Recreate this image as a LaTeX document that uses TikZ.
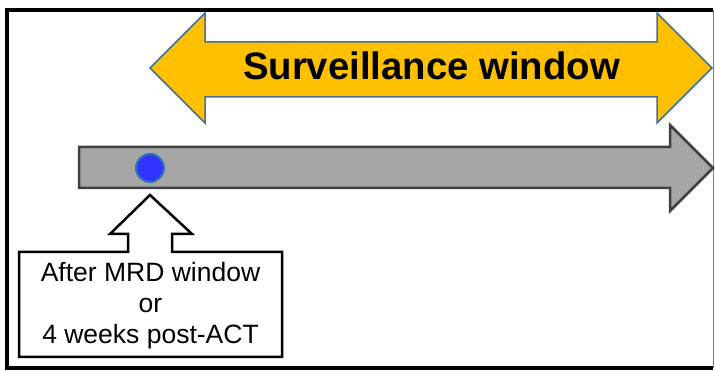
\documentclass[tikz,border=0pt]{standalone}
\usepackage{fontspec}
\setmainfont{Liberation Sans}
\definecolor{arrowyellow}{HTML}{FFC000}
\definecolor{arrowedge}{HTML}{41719C}
\definecolor{bargray}{HTML}{A6A6A6}
\definecolor{baredge}{HTML}{404040}
\definecolor{dotblue}{HTML}{3333FF}
\definecolor{dotedge}{HTML}{2E75B6}
\begin{document}
\begin{tikzpicture}[x=1pt,y=-1pt,
  frameline/.style={line width=4pt,black},
  yellowarrow/.style={fill=arrowyellow,draw=arrowedge,line width=1.5pt,line join=miter},
  grayarrow/.style={fill=bargray,draw=baredge,line width=2.5pt,line join=miter},
  callout/.style={fill=white,draw=black,line width=2.5pt,line join=miter},
  labeltext/.style={font=\fontsize{26.5}{32}\selectfont,inner sep=0pt,anchor=base},
  titletext/.style={font=\fontsize{38.3}{40}\selectfont\bfseries,inner sep=0pt,anchor=base}]
\useasboundingbox (0,0) rectangle (715,371);
% frame
\draw[line width=0.8pt,gray] (713,10) -- (713,368);
\draw[frameline] (713,10) -- (7,10) -- (7,368) -- (713,368);
% yellow double arrow
\draw[yellowarrow] (150,68) -- (205,13) -- (205,42) -- (657,42) -- (657,13) -- (712,68)
  -- (657,123) -- (657,97) -- (205,97) -- (205,123) -- cycle;
\node[titletext] (title) at (431.5,80) {Surveillance window};
% gray timeline arrow
\draw[grayarrow] (79,147) -- (670,147) -- (670,125) -- (713,168) -- (670,211)
  -- (670,188) -- (79,188) -- cycle;
% blue dot
\node[circle,minimum size=28pt,inner sep=0pt,fill=dotblue,draw=dotedge,line width=2pt] (dot) at (150,168) {};
% callout
\coordinate (tip) at (150,195);
\draw[callout] (tip) -- (192,234) -- (172,234) -- (172,252) -- (282,252) -- (282,357)
  -- (19,357) -- (19,252) -- (128,252) -- (128,234) -- (110,234) -- cycle;
\node[labeltext] (l1) at (150.5,282) {After MRD window};
\node[labeltext] (l2) at (150.5,313) {or};
\node[labeltext] (l3) at (150.5,344) {4 weeks post-ACT};
\end{tikzpicture}
\end{document}
